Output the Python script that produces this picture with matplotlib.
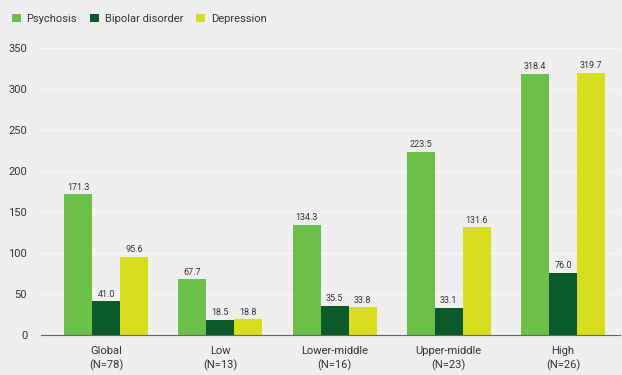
import numpy as np
import matplotlib
matplotlib.use("Agg")
import matplotlib.pyplot as plt

categories = ["Global\n(N=78)", "Low\n(N=13)", "Lower-middle\n(N=16)",
              "Upper-middle\n(N=23)", "High\n(N=26)"]
psychosis = [171.3, 67.7, 134.3, 223.5, 318.4]
bipolar = [41.0, 18.5, 35.5, 33.1, 76.0]
depression = [95.6, 18.8, 33.8, 131.6, 319.7]
series_names = ["Psychosis", "Bipolar disorder", "Depression"]
yticks = [0, 50, 100, 150, 200, 250, 300, 350]

plt.rcParams['font.family'] = ['Roboto', 'DejaVu Sans']

bg = '#efefef'
colors = ['#6cc04a', '#0b5a2a', '#d5dd1d']

fig = plt.figure(figsize=(6.22, 3.75), dpi=100, facecolor=bg)
ax = fig.add_axes([0.066, 0.107, 0.931, 0.765], facecolor=bg)

x = np.arange(len(categories))
w = 0.245
for i, (vals, name) in enumerate(zip([psychosis, bipolar, depression], series_names)):
    bars = ax.bar(x + (i - 1) * w, vals, w, color=colors[i], label=name, zorder=3)
    for b, v in zip(bars, vals):
        ax.text(b.get_x() + b.get_width() / 2, v + 3, f"{v:.1f}", ha='center',
                va='bottom', fontsize=6.5, color='#333333', zorder=4)

ax.set_xlim(-0.57, 4.5)
ax.set_ylim(0, 350)
ax.set_yticks(yticks)
ax.set_xticks(x)
ax.set_xticklabels(categories, fontsize=8, color='#333333', linespacing=1.4)
ax.tick_params(axis='y', length=0, labelsize=8, labelcolor='#333333', pad=10)
ax.tick_params(axis='x', length=0, pad=8)
ax.grid(axis='y', color='#f9f9f9', linewidth=0.9, zorder=0)
for s in ['top', 'right', 'left']:
    ax.spines[s].set_visible(False)
ax.spines['bottom'].set_color('#666666')
ax.spines['bottom'].set_linewidth(0.8)
ax.spines['bottom'].set_zorder(5)

fig.legend(loc='upper left', bbox_to_anchor=(0.003, 0.99), ncol=3, frameon=False,
           fontsize=8, handlelength=0.8, handleheight=0.8, handletextpad=0.5,
           columnspacing=1.2, labelcolor='#333333')

fig.savefig("out.png", dpi=100, facecolor=bg)
